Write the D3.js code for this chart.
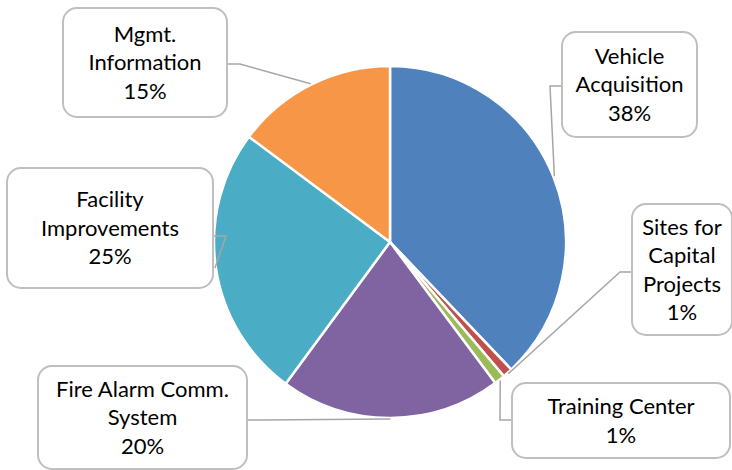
<!DOCTYPE html>
<html>
<head>
<meta charset="utf-8">
<script src="https://cdn.jsdelivr.net/npm/d3@7"></script>
<style>
  body { margin: 0; background: #fff; }
  text { font-family: Lato, "Liberation Sans", sans-serif; fill: #000; }
</style>
</head>
<body>
<svg width="732" height="470"></svg>
<script>
// data (percent of total)
var categories = ["Vehicle Acquisition", "Sites for Capital Projects", "Training Center",
                  "Fire Alarm Comm. System", "Facility Improvements", "Mgmt. Information"]
var values = [37.9, 0.9, 1.0, 20.3, 25.1, 14.8]
var labelLines = [
    ["Vehicle", "Acquisition"],
    ["Sites for", "Capital", "Projects"],
    ["Training Center"],
    ["Fire Alarm Comm.", "System"],
    ["Facility", "Improvements"],
    ["Mgmt.", "Information"]
]
var colors = ["#4f81bd", "#c0504d", "#9bbb59", "#8064a2", "#4bacc6", "#f79646"]

// label box layout: x, y, w, h, which side the leader leaves, y of the leader on the box
var boxes = [
    { x: 562, y: 32, w: 135, h: 105, side: "left", ly: 86 },
    { x: 632, y: 204, w: 100, h: 131, side: "left", ly: 272 },
    { x: 512, y: 383, w: 218, h: 75, side: "left", ly: 420 },
    { x: 38, y: 366, w: 209, h: 103, side: "right", ly: 420 },
    { x: 7, y: 168, w: 206, h: 120, side: "right", ly: 236 },
    { x: 63, y: 8, w: 164, h: 109, side: "right", ly: 64 }
]

var cx = 390, cy = 242, radius = 176
var svg = d3.select("svg")

var total = d3.sum(values)
var data = categories.map((c, i) => ({ name: c, value: values[i], lines: labelLines[i], color: colors[i], box: boxes[i] }))

var pie = d3.pie().sort(null).value(d => d.value)
var arc = d3.arc().innerRadius(0).outerRadius(radius)

var arcs = pie(data)

var g = svg.append("g").attr("transform", "translate(" + cx + "," + cy + ")")

g.selectAll("path")
    .data(arcs)
    .enter()
    .append("path")
    .attr("d", arc)
    .attr("fill", d => d.data.color)
    .attr("stroke", "#fff")
    .attr("stroke-width", 2.5)
    .attr("stroke-linejoin", "round")

// leader lines
arcs.forEach(a => {
    var mid = (a.startAngle + a.endAngle) / 2
    var ex = cx + (radius + 1) * Math.sin(mid)
    var ey = cy - (radius + 1) * Math.cos(mid)
    var b = a.data.box
    var bx = b.side == "left" ? b.x : b.x + b.w
    var elbow = b.side == "left" ? bx - 12 : bx + 13
    svg.append("polyline")
        .attr("points", [[bx, b.ly], [elbow, b.ly], [ex, ey]].map(p => p.join(",")).join(" "))
        .attr("fill", "none")
        .attr("stroke", "#a6a6a6")
        .attr("stroke-width", 1.5)
})

// label boxes
var lineH = 28.5
arcs.forEach(a => {
    var b = a.data.box
    svg.append("rect")
        .attr("x", b.x).attr("y", b.y)
        .attr("width", b.w).attr("height", b.h)
        .attr("rx", 14).attr("ry", 14)
        .attr("fill", "#fff")
        .attr("stroke", "#bfbfbf")
        .attr("stroke-width", 2)

    var lines = a.data.lines.concat([Math.round(a.data.value / total * 100) + "%"])
    var top = b.y + b.h / 2 - lines.length * lineH / 2
    var t = svg.append("text")
        .attr("text-anchor", "middle")
        .attr("font-size", 22)
    lines.forEach((s, i) => {
        t.append("tspan")
            .attr("x", b.x + b.w / 2)
            .attr("y", top + i * lineH + lineH / 2)
            .attr("dy", "0.36em")
            .text(s)
    })
})
</script>
</body>
</html>
